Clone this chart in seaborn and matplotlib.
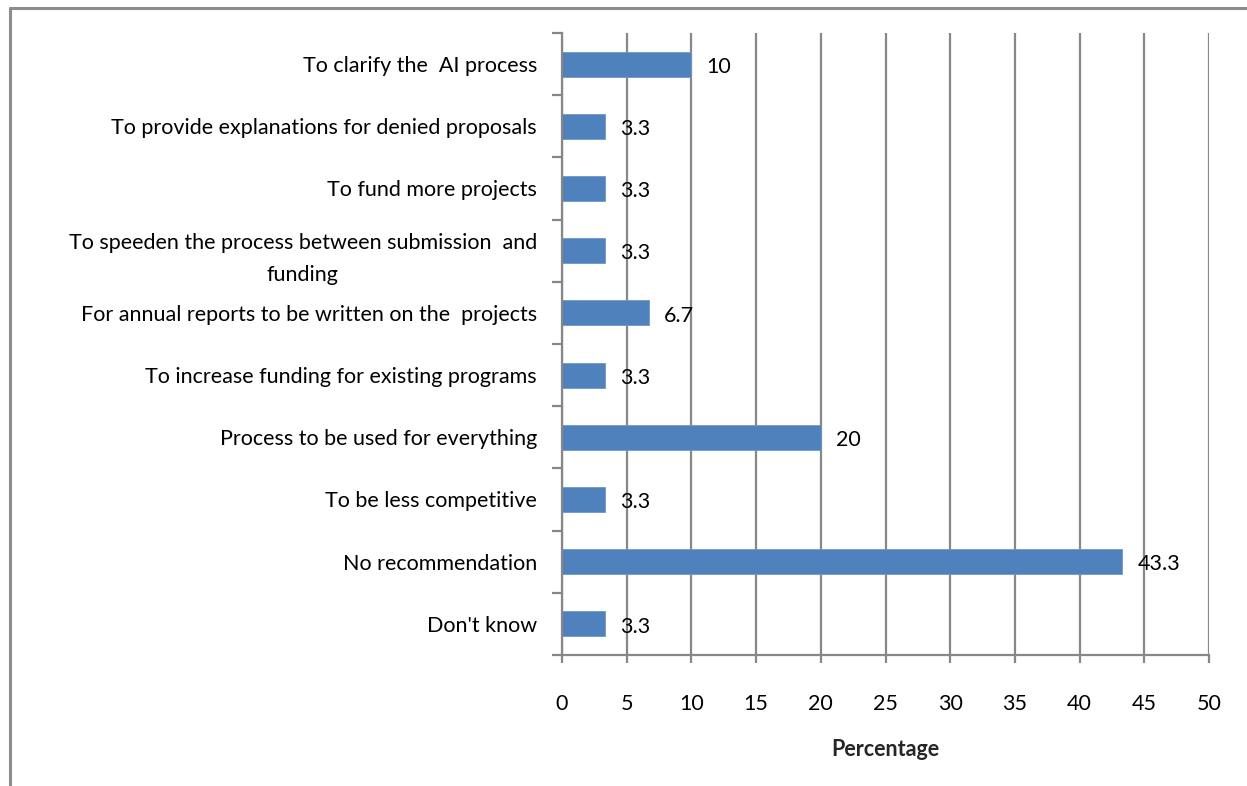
import matplotlib
matplotlib.use("Agg")
import matplotlib.pyplot as plt
import seaborn as sns
import pandas as pd
import numpy as np
from matplotlib.lines import Line2D

categories = [
    "To clarify the  AI process",
    "To provide explanations for denied proposals",
    "To fund more projects",
    "To speeden the process between submission  and\nfunding",
    "For annual reports to be written on the  projects",
    "To increase funding for existing programs",
    "Process to be used for everything",
    "To be less competitive",
    "No recommendation",
    "Don't know",
]
values = [10, 3.3, 3.3, 3.3, 6.7, 3.3, 20, 3.3, 43.3, 3.3]
xticks = [0, 5, 10, 15, 20, 25, 30, 35, 40, 45, 50]

sns.set_theme(style="white")
plt.rcParams["font.family"] = ["Lato", "DejaVu Sans"]

FS = 15.5
W, H = 1247, 786
fig = plt.figure(figsize=(W / 100, H / 100), dpi=100)
ax = fig.add_axes([562 / W, 1 - 655 / H, (1209 - 562) / W, (655 - 33) / H])

df = pd.DataFrame({"cat": categories, "val": values})
sns.barplot(data=df, x="val", y="cat", orient="h", color="#4F81BD",
            saturation=1, width=0.4, ax=ax, edgecolor="#6f97c9", linewidth=0.6)

grid_c = "#878787"
ax.set_xlim(0, 50)
ax.set_ylim(len(categories) - 0.5, -0.5)
ax.set_xticks(xticks)
ax.set_xticklabels([str(t) for t in xticks], fontsize=FS, color="black")
ax.xaxis.grid(True, color=grid_c, linewidth=1.6)
ax.yaxis.grid(False)
ax.set_axisbelow(True)

for s in ["top", "right"]:
    ax.spines[s].set_visible(False)
for s in ["left", "bottom"]:
    ax.spines[s].set_color(grid_c)
    ax.spines[s].set_linewidth(1.6)

ax.tick_params(axis="x", bottom=True, length=6, width=1.6, color=grid_c, pad=22)
ax.set_yticks(range(len(categories)))
ax.set_yticklabels(categories, fontsize=FS, color="black")
ax.tick_params(axis="y", which="major", left=False, length=0, pad=18)
ax.set_yticks(np.arange(-0.5, len(categories), 1), minor=True)
ax.tick_params(axis="y", which="minor", left=True, length=7, width=1.6, color=grid_c)
for lbl in ax.get_yticklabels():
    lbl.set_multialignment("center")
    lbl.set_linespacing(1.75)

ax.set_ylabel("")
ax.set_xlabel("Percentage", fontsize=FS, fontweight="bold", labelpad=18)

for i, v in enumerate(values):
    ax.annotate(f"{v:g}", xy=(v, i), xytext=(11, -2), textcoords="offset points",
                ha="left", va="center", fontsize=FS, color="black")

# outer frame
fc = "#8c8c8c"
fig.add_artist(Line2D([9.5 / W, 1.0], [1 - 7.5 / H, 1 - 7.5 / H], color=fc, linewidth=2.2,
                      transform=fig.transFigure))
fig.add_artist(Line2D([9.5 / W, 9.5 / W], [0, 1 - 7.5 / H], color=fc, linewidth=2.2,
                      transform=fig.transFigure))

fig.savefig("out.png", dpi=100, facecolor="white")
